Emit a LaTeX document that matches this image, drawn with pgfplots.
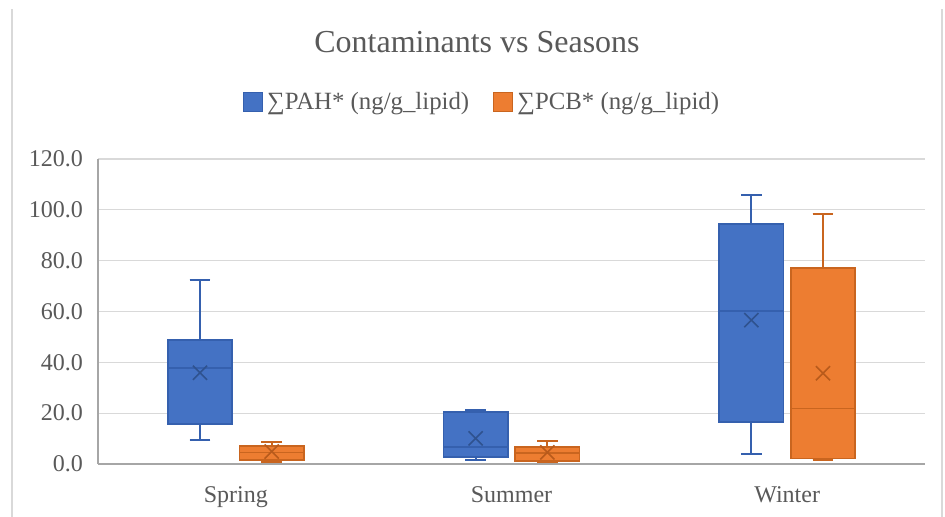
\documentclass[border=0pt]{standalone}
\usepackage{pgfplots}
\pgfplotsset{compat=1.18}
\usepgfplotslibrary{statistics}
\usepackage{fontspec}
\setmainfont{Liberation Serif}
\definecolor{pahfill}{HTML}{4472C4}
\definecolor{pahedge}{HTML}{3560AE}
\definecolor{pahmark}{HTML}{2F528F}
\definecolor{pcbfill}{HTML}{ED7D31}
\definecolor{pcbedge}{HTML}{C9651F}
\definecolor{pcbmark}{HTML}{B85A1B}
\definecolor{gridc}{HTML}{D9D9D9}
\definecolor{axisc}{HTML}{A6A6A6}
\definecolor{textc}{HTML}{595959}
\begin{document}
\begin{tikzpicture}
\path[use as bounding box] (0pt,0pt) rectangle (472.5pt,258.5pt);
\draw[gridc, line width=0.6pt] (6pt,0pt) -- (6pt,254pt);
\draw[gridc, line width=0.6pt] (471pt,0pt) -- (471pt,254pt);
\node[text=textc, font=\fontsize{16}{19}\selectfont] at (238.5pt,237.5pt) {Contaminants vs Seasons};
\begin{axis}[
  at={(49pt,26.5pt)}, anchor=south west,
  scale only axis, width=413.5pt, height=152.5pt,
  xmin=-0.5, xmax=2.5, ymin=0, ymax=120,
  xtick={0,1,2}, xticklabels={Spring,Summer,Winter},
  ytick={0,20,...,120},
  major tick length=0pt,
  ymajorgrids, grid style={gridc, line width=0.6pt},
  axis x line*=bottom, axis y line*=left,
  x axis line style={axisc, line width=1.2pt, -},
  y axis line style={axisc, line width=0.6pt, -},
  /pgf/number format/.cd, fixed, fixed zerofill, precision=1, assume math mode=true,
  /pgfplots/.cd,
  ticklabel style={text=textc, font=\fontsize{12}{14}\selectfont},
  yticklabel style={xshift=-4pt},
  xticklabel style={yshift=-8pt},
  legend style={at={(0.4655,1.187)}, anchor=center, draw=none, fill=none,
    legend columns=2, font=\fontsize{12.4}{14}\selectfont, text=textc,
    /tikz/every even column/.append style={column sep=10pt}},
  boxplot/draw direction=y,
  boxplot/whisker extend=0.075,
]
% Spring PAH
\addplot[boxplot prepared={draw position=-0.13, lower whisker=9.4, lower quartile=15.6, median=37.9, upper quartile=48.8, upper whisker=72.4, box extend=0.233},
  draw=pahedge, fill=pahfill, line width=0.9pt,
  legend image code/.code={\draw[draw=pahedge, fill=pahfill, line width=0.6pt] (-3pt,-4.75pt) rectangle (6.5pt,4.75pt);}] coordinates {};
\addlegendentry{∑PAH* (ng/g\_lipid)}
% Spring PCB
\addplot[boxplot prepared={draw position=0.13, lower whisker=0.9, lower quartile=1.6, median=4.5, upper quartile=7.1, upper whisker=8.5, box extend=0.233},
  draw=pcbedge, fill=pcbfill, line width=0.9pt,
  legend image code/.code={\draw[draw=pcbedge, fill=pcbfill, line width=0.6pt] (-3pt,-4.75pt) rectangle (6.5pt,4.75pt);}] coordinates {};
\addlegendentry{∑PCB* (ng/g\_lipid)}
% Summer PAH
\addplot[boxplot prepared={draw position=0.87, lower whisker=1.6, lower quartile=2.9, median=6.8, upper quartile=20.3, upper whisker=21.2, box extend=0.233},
  draw=pahedge, fill=pahfill, line width=0.9pt, forget plot] coordinates {};
% Summer PCB
\addplot[boxplot prepared={draw position=1.13, lower whisker=0.8, lower quartile=1.3, median=4.4, upper quartile=6.8, upper whisker=9.2, box extend=0.233},
  draw=pcbedge, fill=pcbfill, line width=0.9pt, forget plot] coordinates {};
% Winter PAH
\addplot[boxplot prepared={draw position=1.87, lower whisker=3.8, lower quartile=16.6, median=60.3, upper quartile=94.3, upper whisker=105.7, box extend=0.233},
  draw=pahedge, fill=pahfill, line width=0.9pt, forget plot] coordinates {};
% Winter PCB
\addplot[boxplot prepared={draw position=2.13, lower whisker=1.6, lower quartile=2.2, median=21.8, upper quartile=77.2, upper whisker=98.5, box extend=0.233},
  draw=pcbedge, fill=pcbfill, line width=0.9pt, forget plot] coordinates {};
% means
\addplot[only marks, mark=x, mark size=5pt, pahmark, mark options={line width=0.8pt}, forget plot]
  coordinates {(-0.13,35.9) (0.87,10.1) (1.87,56.6)};
\addplot[only marks, mark=x, mark size=5pt, pcbmark, mark options={line width=0.8pt}, forget plot]
  coordinates {(0.13,4.9) (1.13,4.6) (2.13,35.7)};
\end{axis}
\end{tikzpicture}
\end{document}
